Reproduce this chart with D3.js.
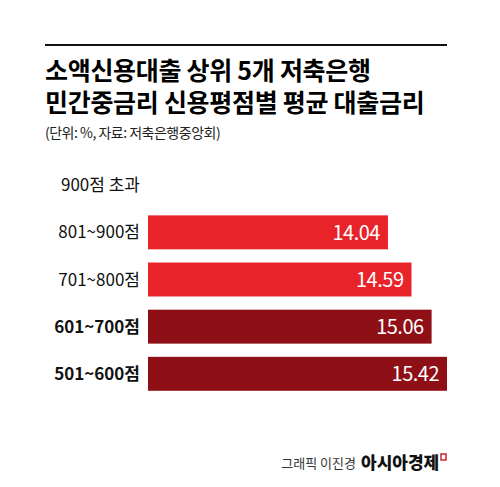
<!DOCTYPE html><html><head><meta charset="utf-8">
<script src="https://cdn.jsdelivr.net/npm/d3@7"></script>
<style>body{margin:0;background:#fff}</style></head><body>
<script>
const categories=["900점 초과","801~900점","701~800점","601~700점","501~600점"];
const values=[null,14.04,14.59,15.06,15.42];
const colors=[null,"#e8232a","#e8232a","#8e1016","#8e1016"];
const bold=[false,false,false,true,true];
const W=500,H=487;
const svg=d3.select("body").append("svg").attr("width",W).attr("height",H);
const F="'Noto Sans CJK KR','Noto Sans',sans-serif";
svg.append("line").attr("x1",45).attr("x2",447).attr("y1",45).attr("y2",45).attr("stroke","#111").attr("stroke-width",2);
svg.append("text").attr("x",45).attr("y",80).attr("font-family",F).attr("font-weight",700).attr("font-size",25).attr("letter-spacing",-0.3).text("소액신용대출 상위 5개 저축은행");
svg.append("text").attr("x",45).attr("y",112).attr("font-family",F).attr("font-weight",700).attr("font-size",25).attr("letter-spacing",-0.3).text("민간중금리 신용평점별 평균 대출금리");
svg.append("text").attr("x",45).attr("y",138).attr("font-family",F).attr("font-size",14).attr("fill","#222").attr("letter-spacing",-0.5).text("(단위: %, 자료: 저축은행중앙회)");
const x=d3.scaleLinear().domain([8.43,15.42]).range([148,447]);
const y=d3.scaleBand().domain(categories).range([155,404]).padding(0.28);
const g=svg.append("g");
categories.forEach((c,i)=>{
  const yc=y(c)+y.bandwidth()/2;
  g.append("text").attr("x",140).attr("y",yc).attr("dy","0.36em").attr("text-anchor","end").attr("font-family",F).attr("font-size",17).attr("font-weight",bold[i]?700:400).attr("fill","#111").text(c);
  if(values[i]!=null){
    g.append("rect").attr("x",x.range()[0]).attr("y",y(c)).attr("width",x(values[i])-x.range()[0]).attr("height",y.bandwidth()).attr("fill",colors[i]);
    g.append("text").attr("x",x(values[i])-8).attr("y",yc).attr("dy","0.36em").attr("text-anchor","end").attr("font-family",F).attr("font-size",20).attr("fill","#fff").attr("letter-spacing",-0.5).text(values[i].toFixed(2));
  }
});
svg.append("text").attr("x",356).attr("y",468).attr("text-anchor","end").attr("font-family",F).attr("font-size",13).attr("fill","#333").text("그래픽 이진경");
svg.append("text").attr("x",361).attr("y",469).attr("font-family",F).attr("font-size",17).attr("font-weight",900).attr("fill","#111").text("아시아경제");
svg.append("rect").attr("x",441).attr("y",454).attr("width",5).attr("height",6).attr("fill","none").attr("stroke","#d2232a").attr("stroke-width",1.5);
</script></body></html>
